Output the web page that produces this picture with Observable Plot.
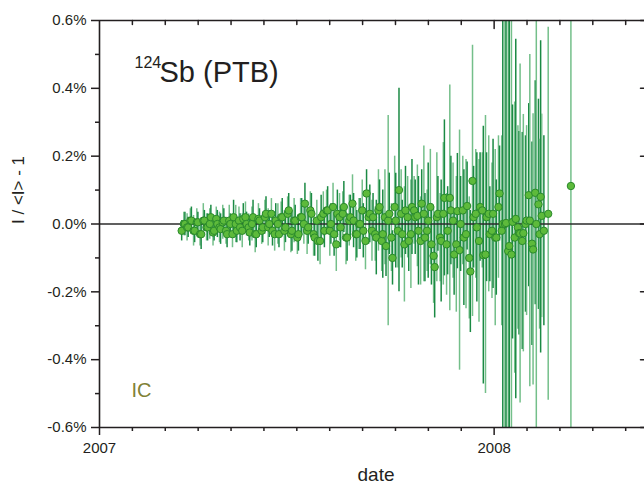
<!DOCTYPE html>
<html><head><meta charset="utf-8">
<script src="https://cdn.jsdelivr.net/npm/d3@7"></script>
<script src="https://cdn.jsdelivr.net/npm/@observablehq/plot@0.6"></script>
<style>html,body{margin:0;padding:0;background:#fff;overflow:hidden}</style>
</head><body><div id="chart"></div>
<script>
// Series A (dark error bars): day of measurement counted from 2007-01-01, deviation in %, uncertainty in %
const dayA = [76,79,82,85,88,91,94,97,100,103,106,109,112,115,118,121,124,127,130,133,136,139,142,145,148,151,154,157,160,163,166,169,172,175,178,181,184,187,190,193,196,199,202,205,208,211,214,217,220,223,226,229,232,235,238,241,244,247,250,
253,256,259,262,265,268,271,274,277,280,283,286,289,292,295,298,301,304,307,310,313,316,319,322,325,328,331,334,337,340,343,346,349,352,355,358,361,364,367,370,
373,376,379,382,385,388,391,394,397,400,403,406,408,411];
const valA = [-0.020,0.000,-0.010,0.010,-0.020,0.005,-0.030,0.010,-0.010,0.020,
-0.020,0.000,-0.015,0.010,-0.030,0.000,0.020,-0.020,-0.010,0.015,
0.000,-0.025,0.020,-0.030,0.010,-0.010,0.030,0.000,-0.020,0.010,
-0.030,0.020,-0.010,0.040,-0.020,0.010,-0.030,0.020,0.060,-0.010,
0.030,-0.040,-0.050,0.020,-0.020,0.040,0.000,-0.030,0.030,-0.010,
0.050,-0.040,0.020,0.010,-0.030,0.000,-0.020,0.090,0.030,
0.020,-0.040,0.050,-0.030,-0.065,0.030,-0.100,0.010,0.100,-0.030,
0.040,-0.050,0.050,0.020,-0.020,0.060,-0.040,0.010,-0.060,-0.127,
0.030,-0.050,0.077,-0.020,0.040,-0.090,0.038,0.000,-0.040,0.053,
-0.140,0.020,-0.010,0.050,-0.092,0.020,-0.030,0.030,-0.040,0.090,
0.000,0.003,-0.065,0.006,0.015,-0.027,-0.050,0.000,0.085,-0.058,0.092,0.058,0.080,-0.020];
const errA = [0.030,0.035,0.030,0.040,0.035,0.030,0.045,0.030,0.040,0.035,
0.030,0.040,0.045,0.035,0.040,0.030,0.050,0.035,0.040,0.045,
0.035,0.040,0.050,0.040,0.035,0.045,0.050,0.040,0.045,0.050,
0.040,0.055,0.045,0.050,0.060,0.045,0.050,0.055,0.060,0.050,
0.060,0.055,0.060,0.065,0.050,0.070,0.060,0.065,0.070,0.060,
0.075,0.070,0.065,0.080,0.070,0.075,0.080,0.070,0.085,
0.07,0.11,0.08,0.13,0.09,0.12,0.08,0.14,0.30,0.10,
0.13,0.09,0.14,0.11,0.16,0.10,0.13,0.17,0.12,0.15,
0.11,0.18,0.23,0.13,0.16,0.12,0.17,0.14,0.20,0.13,
0.18,0.15,0.22,0.16,0.38,0.19,0.14,0.22,0.17,0.14,
0.75,0.85,0.70,0.345,0.53,0.30,0.32,0.26,0.27,0.30,0.33,0.31,0.46,0.28];

// Series B (light error bars)
const dayB = [78,81,84,87,90,93,96,99,102,105,108,111,114,117,120,123,126,129,132,135,138,141,144,147,150,153,156,159,162,165,168,171,174,177,180,183,186,189,192,195,198,201,204,207,210,213,216,219,222,225,228,231,234,237,240,243,246,249,252,
255,258,261,264,267,270,273,276,279,282,285,288,291,294,297,300,303,306,309,312,315,318,321,324,327,330,333,336,339,342,345,348,351,354,357,360,363,366,369,372,
375,378,381,384,387,389,392,395,398,401,404,407,409,415,436];
const valB = [0.000,-0.010,0.010,-0.020,0.005,-0.030,0.010,-0.010,0.000,-0.025,
0.015,-0.010,0.005,-0.020,0.010,-0.030,0.000,0.010,-0.020,0.020,
-0.010,0.000,-0.030,0.015,-0.020,0.020,-0.010,0.030,-0.030,0.000,
0.020,-0.020,0.030,-0.030,0.010,-0.040,0.020,0.000,-0.020,0.040,
-0.030,0.010,-0.050,0.030,0.040,-0.020,0.050,-0.060,0.020,0.030,
-0.040,0.010,0.060,-0.030,0.000,0.040,-0.050,0.020,-0.020,
-0.030,0.040,-0.050,0.020,0.010,-0.040,0.050,-0.020,0.030,-0.060,
0.020,-0.030,0.040,0.024,-0.050,0.030,-0.020,0.050,-0.094,0.020,
-0.040,0.030,-0.060,0.077,0.010,-0.060,-0.077,0.040,-0.030,-0.100,
0.127,0.030,-0.050,0.040,-0.090,0.030,-0.020,-0.040,0.050,-0.020,
0.000,-0.080,-0.090,-0.040,-0.010,-0.028,-0.027,0.010,0.010,-0.075,0.000,-0.030,0.024,0.030,0.112];
const errB = [0.035,0.040,0.035,0.045,0.040,0.035,0.050,0.040,0.045,0.040,
0.035,0.045,0.050,0.040,0.045,0.040,0.055,0.040,0.050,0.045,
0.040,0.050,0.055,0.045,0.040,0.050,0.055,0.045,0.050,0.060,
0.045,0.060,0.050,0.055,0.065,0.050,0.055,0.060,0.070,0.055,
0.065,0.060,0.070,0.065,0.060,0.075,0.070,0.080,0.070,0.065,
0.080,0.075,0.085,0.080,0.075,0.090,0.085,0.080,0.090,
0.08,0.12,0.09,0.14,0.31,0.10,0.15,0.11,0.13,0.17,
0.12,0.16,0.10,0.15,0.13,0.20,0.12,0.17,0.14,0.19,
0.13,0.21,0.15,0.333,0.17,0.20,0.354,0.16,0.22,0.18,
0.40,0.19,0.24,0.17,0.41,0.23,0.20,0.26,0.21,0.28,
0.90,0.85,0.80,0.40,0.30,0.50,0.35,0.28,0.49,0.40,0.80,0.28,0.30,0.55,1.00];

// Axis ticks
const yMajor = [-0.6,-0.4,-0.2,0,0.2,0.4,0.6];
const yMinor = [-0.5,-0.3,-0.1,0.1,0.3,0.5];
const xMajor = [2007,2008];
const xMinorMonths = [1,2,3,4,5,6,7,8,9,10,11,13,14,15,16]; // months after Jan 2007
const titleSup = "124", titleMain = "Sb (PTB)";
const yLabel = "I / <I> - 1", xLabel = "date", tag = "IC";

const toYear = d => 2007 + d / 365;
const xMinor = xMinorMonths.map(m => 2007 + m / 12);
const rows = dayA.map((d, i) => ({t: toYear(d), v: valA[i], e: errA[i], s: "A"}))
  .concat(dayB.map((d, i) => ({t: toYear(d), v: valB[i], e: errB[i], s: "B"})))
  .sort((a, b) => a.t - b.t);

const ink = "#231f20";
const tickDown = {draw(ctx, l) { ctx.moveTo(0, 0); ctx.lineTo(0, -l); }};

const chart = Plot.plot({
  width: 644, height: 485,
  marginLeft: 99, marginRight: 0, marginTop: 20, marginBottom: 58,
  style: {fontFamily: "'Liberation Sans', Arial, sans-serif", color: ink, background: "#fff"},
  x: {domain: [2007, 2008.381], axis: null},
  y: {domain: [-0.6, 0.6], axis: null},
  color: {domain: ["A", "B"], range: ["#1b8a44", "#74bf8a"]},
  marks: [
    Plot.ruleX(rows, {x: "t", y1: d => d.v - d.e, y2: d => d.v + d.e, stroke: "s", strokeWidth: 1.5, clip: true}),
    Plot.ruleY([0], {stroke: "#2b2b2b", strokeWidth: 1.5}),
    Plot.dot(rows, {x: "t", y: "v", r: 3.7, fill: "#5dba3b", stroke: "#2a8a2c", strokeWidth: 1, clip: true}),
    // frame
    Plot.ruleX([2007], {stroke: ink, strokeWidth: 1.6}),
    Plot.ruleY([0.6], {stroke: ink, strokeWidth: 1.6}),
    Plot.ruleY([-0.6], {stroke: ink, strokeWidth: 1.6}),
    // left axis
    Plot.axisY(yMajor, {anchor: "left", tickSize: 8, tickPadding: 5, strokeWidth: 1.5, fontSize: 15, tickFormat: d => d.toFixed(1) + "%", label: null}),
    Plot.axisY(yMinor, {anchor: "left", tickSize: 4, strokeWidth: 1.5, tickFormat: () => "", label: null}),
    // bottom axis
    Plot.axisX(xMajor, {anchor: "bottom", tickSize: 8, tickPadding: 7, strokeWidth: 1.5, fontSize: 15, tickFormat: d => String(d), label: null}),
    Plot.axisX(xMinor, {anchor: "bottom", tickSize: 4, strokeWidth: 1.5, tickFormat: () => "", label: null}),
    // top inward ticks
    Plot.vector(xMinor, {x: d => d, frameAnchor: "top", length: 4, rotate: 180, anchor: "start", shape: tickDown, stroke: ink, strokeWidth: 1.5}),
    Plot.vector([2008], {x: d => d, frameAnchor: "top", length: 8, rotate: 180, anchor: "start", shape: tickDown, stroke: ink, strokeWidth: 1.5}),
    // right inward ticks
    Plot.vector(yMajor, {y: d => d, frameAnchor: "right", length: 4, rotate: 270, anchor: "start", shape: tickDown, stroke: ink, strokeWidth: 1.5}),
    // labels
    Plot.text([yLabel], {frameAnchor: "left", dx: -81, rotate: -90, fontSize: 17, fill: ink}),
    Plot.text([xLabel], {frameAnchor: "bottom", dx: 4, dy: 53, lineAnchor: "bottom", fontSize: 19, fill: ink}),
    Plot.text([titleSup], {frameAnchor: "top-left", dx: 35, dy: 47, textAnchor: "start", lineAnchor: "bottom", fontSize: 16, fill: ink}),
    Plot.text([titleMain], {frameAnchor: "top-left", dx: 60, dy: 61, textAnchor: "start", lineAnchor: "bottom", fontSize: 29, fill: ink}),
    Plot.text([tag], {frameAnchor: "bottom-left", dx: 32, dy: -31, textAnchor: "start", lineAnchor: "bottom", fontSize: 20, fill: "#7f8136"})
  ]
});
document.getElementById("chart").appendChild(chart);
</script>
</body></html>
